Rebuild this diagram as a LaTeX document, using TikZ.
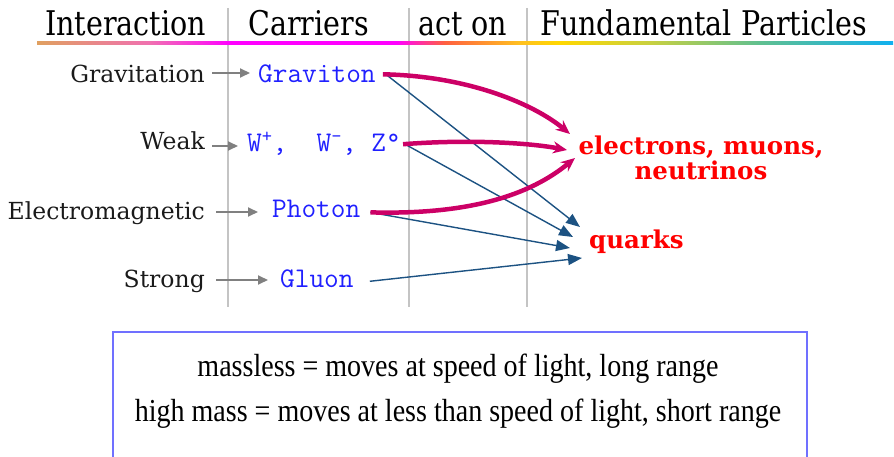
\documentclass[tikz,border=0pt]{standalone}
\usepackage{fontspec}
\usepackage{graphicx}
\usetikzlibrary{arrows.meta}
\setmainfont{DejaVu Serif}
\newfontfamily\boxfont{Liberation Serif}
\definecolor{u0}{HTML}{E0A060}
\definecolor{u1}{HTML}{F070B0}
\definecolor{u2}{HTML}{FF00FF}
\definecolor{u3}{HTML}{FF6040}
\definecolor{u4}{HTML}{FFC020}
\definecolor{u5}{HTML}{FFD700}
\definecolor{u6}{HTML}{C8D040}
\definecolor{u7}{HTML}{60C090}
\definecolor{u8}{HTML}{10B0F0}
\definecolor{vgray}{HTML}{C4C4C4}
\definecolor{agray}{HTML}{808080}
\definecolor{labgray}{HTML}{1A1A1A}
\definecolor{carblue}{HTML}{2020FF}
\definecolor{mag}{HTML}{CC0066}
\definecolor{darkb}{HTML}{1C5282}
\definecolor{boxblue}{HTML}{7070FF}
\pgfdeclarehorizontalshading{rainbowline}{100bp}{color(0bp)=(u0); color(25bp)=(u0); color(31.6bp)=(u1); color(36.3bp)=(u2); color(46bp)=(u2); color(48.8bp)=(u3); color(53.2bp)=(u4); color(55.5bp)=(u5); color(60.8bp)=(u6); color(67.2bp)=(u7); color(75bp)=(u8); color(100bp)=(u8)}
\newcommand\hdrtext[1]{\scalebox{0.84}[1]{\fontsize{34}{34}\selectfont #1}}
\newcommand\cond[1]{\scalebox{0.876}[1]{#1}}
\begin{document}
\begin{tikzpicture}[x=1pt,y=-1pt,
  hdr/.style={inner sep=0pt, text=black, anchor=base west},
  vline/.style={draw=vgray, line width=1.2pt},
  lab/.style={font=\fontsize{23.5}{23.5}\selectfont, text=labgray, inner sep=0pt, anchor=base east},
  car/.style={font=\ttfamily\fontsize{28.5}{28.5}\selectfont, text=carblue, inner sep=0pt, anchor=base west},
  garrow/.style={draw=agray, line width=2pt, -{Triangle[length=10pt,width=9pt]}},
  marrow/.style={draw=mag, line width=4.5pt, -{Stealth[length=14pt,width=12pt]}},
  barrow/.style={draw=darkb, line width=1.4pt, -{Triangle[length=14pt,width=11pt]}},
  redtxt/.style={font=\bfseries\fontsize{24.5}{25}\selectfont, text=red, inner sep=0pt},
  btxt/.style={font=\boxfont\fontsize{32}{45}\selectfont, text=black, inner sep=0pt, align=center}
]
\useasboundingbox (0,0) rectangle (894,457);
% header
\node[hdr] (h1) at (45,36) {\hdrtext{Interaction}};
\node[hdr] (h2) at (248,36) {\hdrtext{Carriers}};
\node[hdr] (h3) at (418,36) {\hdrtext{act on}};
\node[hdr] (h4) at (540,36) {\hdrtext{Fundamental Particles}};
\draw[vline] (228,8) -- (228,307);
\draw[vline] (409,8) -- (409,307);
\draw[vline] (527,8) -- (527,307);
\shade[shading=rainbowline] (37,41.5) rectangle (893,44.5);
% interactions
\node[lab] (gr) at (205,83) {Gravitation};
\node[lab] (wk) at (205,150) {Weak};
\node[lab] (em) at (205,220) {Electromagnetic};
\node[lab] (st) at (205,287) {Strong};
% carriers
\node[car] (cg) at (258,83) {Graviton};
\node[car] (cw) at (247,152) {W\textsuperscript{+},\ \ W\textsuperscript{-}, Z°};
\node[car] (cp) at (272,218) {Photon};
\node[car] (cl) at (280,287) {Gluon};
\coordinate (a1) at ([shift={(7,-10)}]gr.base east);
\coordinate (a2) at ([shift={(7,-4)}]wk.base east);
\coordinate (a3) at ([shift={(11,-8)}]em.base east);
\coordinate (a4) at ([shift={(11,-7)}]st.base east);
\draw[garrow, shorten >=8pt] (a1) -- (a1 -| cg.west);
\draw[garrow, shorten >=9pt] (a2) -- (a2 -| cw.west);
\draw[garrow, shorten >=14pt] (a3) -- (a3 -| cp.west);
\draw[garrow, shorten >=12pt] (a4) -- (a4 -| cl.west);
% particles
\node[redtxt, align=center] (el) at (701,158) {electrons, muons,\\neutrinos};
\node[redtxt, anchor=base west] (qk) at (589,248) {quarks};
\coordinate (e1) at (570,134);
\coordinate (e2) at (567,150);
\coordinate (e3) at (575,158);
\coordinate (q1) at (580,227);
\coordinate (q2) at (573,237);
\coordinate (q3) at (570,248);
\coordinate (q4) at (582,258);
\draw[barrow] ([xshift=10pt]cg.east) -- (q1);
\draw[barrow] ([xshift=4pt]cw.east) -- (q2);
\draw[barrow] ([shift={(10,3)}]cp.east) -- (q3);
\draw[barrow] ([shift={(16,3)}]cl.east) -- (q4);
\draw[marrow] ([xshift=7pt]cg.east) .. controls (470,76) and (535,105) .. (e1);
\draw[marrow] ([xshift=2pt]cw.east) .. controls (470,139) and (530,143) .. (e2);
\draw[marrow] ([shift={(10,3)}]cp.east) .. controls (470,215) and (530,195) .. (e3);
% box
\draw[draw=boxblue, line width=1.5pt] (113,460) -- (113,332) -- (807,332) -- (807,460);
\node[btxt] (bt) at (458,391) {\cond{massless = moves at speed of light, long range}\\\cond{high mass = moves at less than speed of light, short range}};
\end{tikzpicture}
\end{document}
